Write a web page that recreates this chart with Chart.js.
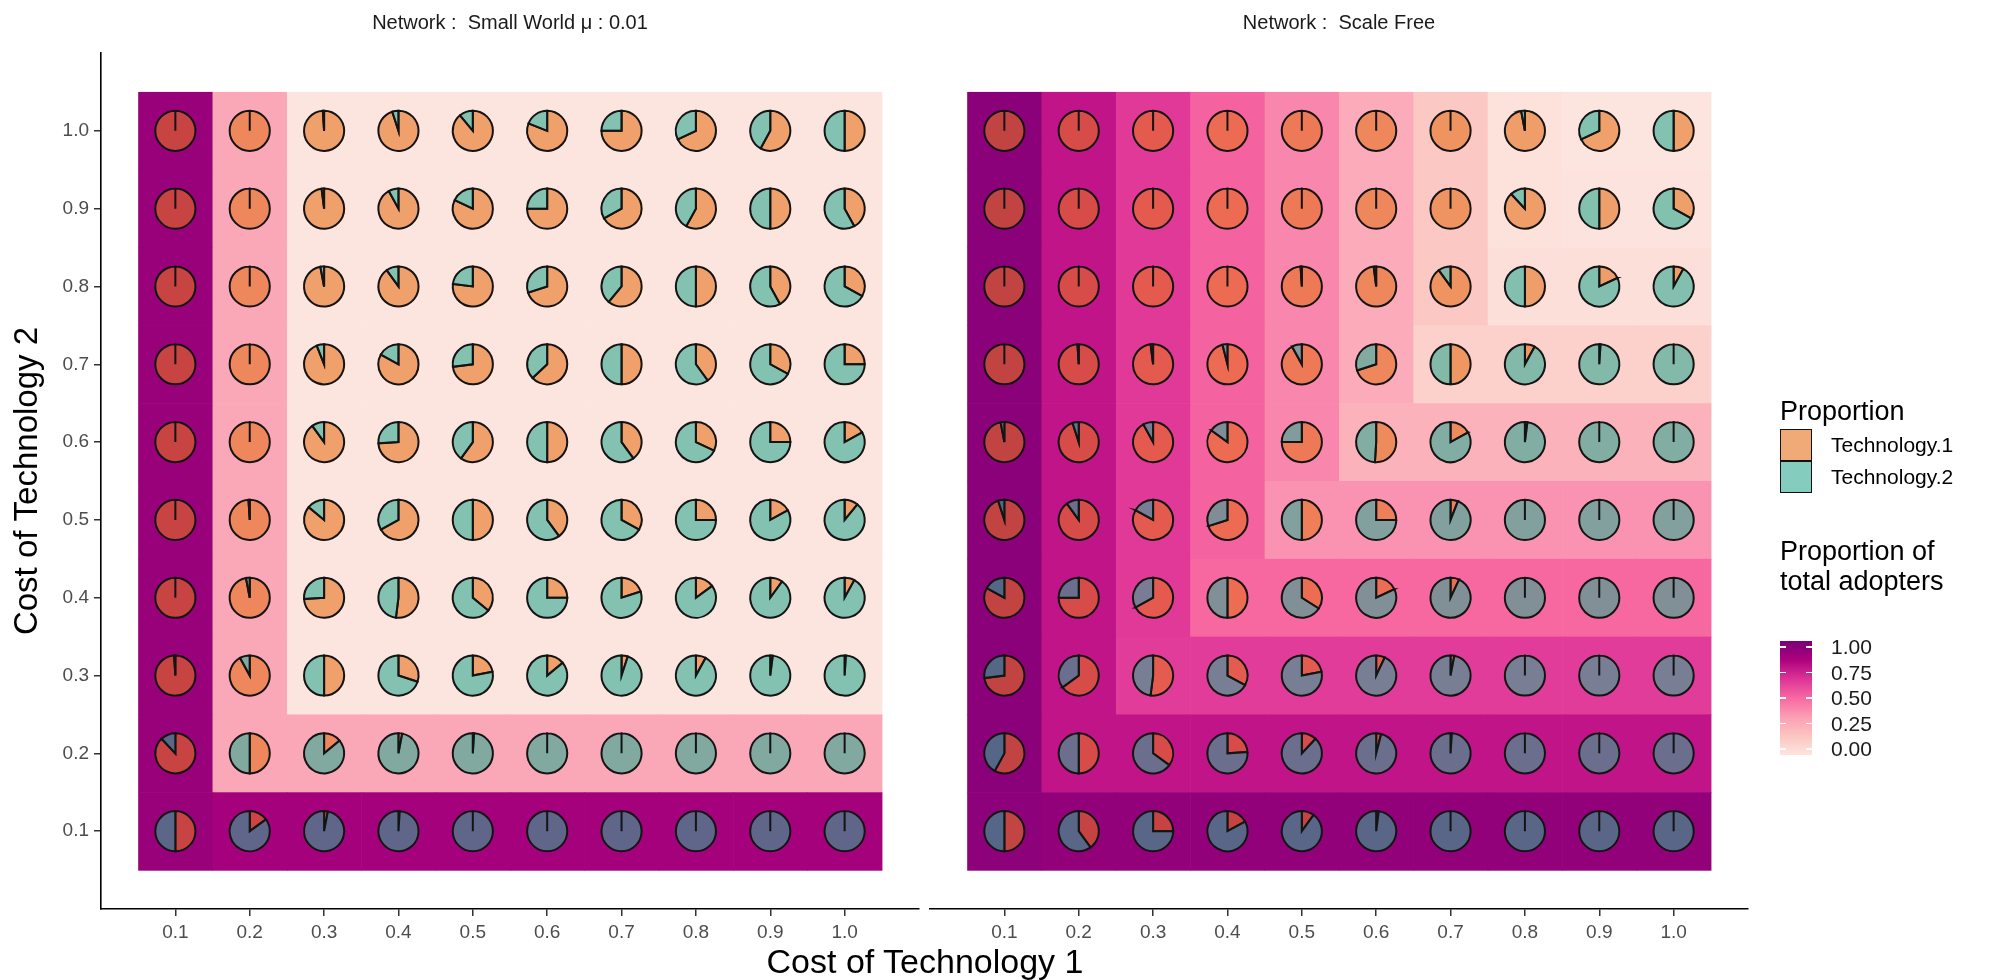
<!DOCTYPE html>
<html>
<head>
<meta charset="utf-8">
<script src="https://cdn.jsdelivr.net/npm/chart.js@4.4.1/dist/chart.umd.min.js"></script>
<style>
    html, body { margin: 0; padding: 0; background: #fff; }
    body { width: 2004px; height: 980px; position: relative; overflow: hidden; font-family: 'Liberation Sans', Arial, sans-serif; }
    canvas { position: absolute; left: 0; top: 0; width: 2004px; height: 980px; }
    .txt { position: absolute; white-space: nowrap; color: #000; }
    .caja { position: absolute; box-sizing: border-box; }
</style>
</head>
<body>
<canvas id="swChart" width="2004" height="980"></canvas>
<canvas id="sfChart" width="2004" height="980"></canvas>
<div id="tituloX" class="txt" style="left:0; width:1850px; top:942px; font-size:34px; line-height:38px; text-align:center;">Cost of Technology 1</div>
<div id="leyenda"></div>
<script>
'use strict';

// Niveles de coste (ejes x e y de ambos paneles)
const costLevels = [0.1, 0.2, 0.3, 0.4, 0.5, 0.6, 0.7, 0.8, 0.9, 1.0];

// Filas: coste tecnología 2 de 1.0 (arriba) a 0.1 (abajo). Columnas: coste tecnología 1 de 0.1 a 1.0
// Cuota de Technology.2 entre los adoptantes - Small World
const swShareTech2 = [
    [0.00, 0.00, 0.01, 0.05, 0.11, 0.19, 0.25, 0.32, 0.42, 0.50],
    [0.00, 0.00, 0.02, 0.08, 0.18, 0.25, 0.33, 0.42, 0.50, 0.58],
    [0.00, 0.00, 0.03, 0.10, 0.23, 0.30, 0.39, 0.50, 0.58, 0.67],
    [0.00, 0.00, 0.06, 0.17, 0.27, 0.37, 0.50, 0.60, 0.67, 0.75],
    [0.00, 0.00, 0.10, 0.26, 0.40, 0.50, 0.60, 0.68, 0.75, 0.83],
    [0.00, 0.01, 0.14, 0.33, 0.50, 0.60, 0.67, 0.75, 0.83, 0.89],
    [0.00, 0.03, 0.26, 0.48, 0.64, 0.75, 0.80, 0.85, 0.90, 0.92],
    [0.01, 0.08, 0.50, 0.70, 0.78, 0.86, 0.95, 0.92, 0.98, 0.99],
    [0.12, 0.50, 0.86, 0.97, 0.99, 1.00, 1.00, 1.00, 1.00, 1.00],
    [0.50, 0.85, 0.97, 0.99, 1.00, 1.00, 1.00, 1.00, 1.00, 1.00]
];
// Proporción de adoptantes totales - Small World
const swAdopters = [
    [0.90, 0.30, 0.00, 0.00, 0.00, 0.00, 0.00, 0.00, 0.00, 0.00],
    [0.90, 0.30, 0.00, 0.00, 0.00, 0.00, 0.00, 0.00, 0.00, 0.00],
    [0.90, 0.30, 0.00, 0.00, 0.00, 0.00, 0.00, 0.00, 0.00, 0.00],
    [0.90, 0.30, 0.00, 0.00, 0.00, 0.00, 0.00, 0.00, 0.00, 0.00],
    [0.90, 0.30, 0.00, 0.00, 0.00, 0.00, 0.00, 0.00, 0.00, 0.00],
    [0.90, 0.30, 0.00, 0.00, 0.00, 0.00, 0.00, 0.00, 0.00, 0.00],
    [0.90, 0.30, 0.00, 0.00, 0.00, 0.00, 0.00, 0.00, 0.00, 0.00],
    [0.90, 0.30, 0.00, 0.00, 0.00, 0.00, 0.00, 0.00, 0.00, 0.00],
    [0.90, 0.30, 0.30, 0.30, 0.30, 0.30, 0.30, 0.30, 0.30, 0.30],
    [0.90, 0.86, 0.86, 0.86, 0.86, 0.86, 0.86, 0.86, 0.86, 0.86]
];

// Cuota de Technology.2 - Scale Free
const sfShareTech2 = [
    [0.00, 0.00, 0.00, 0.00, 0.00, 0.00, 0.00, 0.03, 0.32, 0.50],
    [0.00, 0.00, 0.00, 0.00, 0.00, 0.00, 0.00, 0.12, 0.50, 0.67],
    [0.00, 0.00, 0.00, 0.00, 0.01, 0.02, 0.10, 0.50, 0.82, 0.92],
    [0.00, 0.01, 0.02, 0.04, 0.08, 0.30, 0.50, 0.92, 0.99, 1.00],
    [0.03, 0.05, 0.08, 0.15, 0.25, 0.49, 0.83, 0.98, 1.00, 1.00],
    [0.05, 0.10, 0.17, 0.30, 0.50, 0.75, 0.94, 1.00, 1.00, 1.00],
    [0.17, 0.25, 0.33, 0.50, 0.66, 0.82, 0.93, 1.00, 1.00, 1.00],
    [0.27, 0.35, 0.48, 0.67, 0.78, 0.93, 0.97, 1.00, 1.00, 1.00],
    [0.42, 0.50, 0.65, 0.76, 0.88, 0.96, 0.99, 1.00, 1.00, 1.00],
    [0.50, 0.60, 0.75, 0.83, 0.90, 0.98, 1.00, 1.00, 1.00, 1.00]
];
// Proporción de adoptantes totales - Scale Free
const sfAdopters = [
    [0.95, 0.77, 0.65, 0.52, 0.41, 0.28, 0.15, 0.02, 0.00, 0.00],
    [0.95, 0.77, 0.65, 0.52, 0.41, 0.28, 0.15, 0.02, 0.01, 0.01],
    [0.95, 0.77, 0.65, 0.52, 0.41, 0.28, 0.15, 0.03, 0.03, 0.03],
    [0.95, 0.77, 0.65, 0.52, 0.41, 0.28, 0.11, 0.11, 0.11, 0.11],
    [0.95, 0.77, 0.65, 0.52, 0.41, 0.25, 0.25, 0.25, 0.25, 0.25],
    [0.95, 0.77, 0.65, 0.52, 0.37, 0.37, 0.37, 0.37, 0.37, 0.37],
    [0.95, 0.77, 0.65, 0.50, 0.50, 0.50, 0.50, 0.50, 0.50, 0.50],
    [0.95, 0.77, 0.64, 0.64, 0.64, 0.64, 0.64, 0.64, 0.64, 0.64],
    [0.95, 0.77, 0.77, 0.77, 0.77, 0.77, 0.77, 0.77, 0.77, 0.77],
    [0.94, 0.92, 0.92, 0.92, 0.92, 0.92, 0.92, 0.92, 0.92, 0.92]
];

const techNames = ['Technology.1', 'Technology.2'];
const techColors = ['rgba(230, 113, 30, 0.6)', 'rgba(50, 170, 145, 0.6)'];
const adopterColors = ['#FDE5DF', '#FCC5C0', '#FA9FB5', '#F768A1', '#DD3497', '#AE017E', '#7A0177'];
const adopterBreaks = [1.00, 0.75, 0.50, 0.25, 0.00];

const FUENTE = "'Liberation Sans', Arial, sans-serif";
Chart.defaults.font.family = FUENTE;

function hexARgb(hex) {
    const n = parseInt(hex.slice(1), 16);
    return [n >> 16, (n >> 8) & 255, n & 255];
}

function colorAdoptantes(v) {
    const pos = Math.min(Math.max(v, 0), 1) * (adopterColors.length - 1);
    const i = Math.min(Math.floor(pos), adopterColors.length - 2);
    const t = pos - i;
    const a = hexARgb(adopterColors[i]);
    const b = hexARgb(adopterColors[i + 1]);
    return 'rgb(' + a.map((c, k) => Math.round(c + (b[k] - c) * t)).join(',') + ')';
}

// Teselas de fondo + tartas, colocadas con las escalas del gráfico
function pluginTeselasTartas(cuota, adoptantes) {
    const ArcEl = Chart.ArcElement || Chart.elements.ArcElement;
    const ultimo = costLevels.length - 1;
    return {
        id: 'teselasTartas',
        beforeDatasetsDraw(chart) {
            const { ctx, scales: { x, y } } = chart;
            ctx.save();
            adoptantes.forEach((fila, r) => {
                const c2 = costLevels[ultimo - r];
                fila.forEach((v, c) => {
                    const c1 = costLevels[c];
                    const x0 = x.getPixelForValue(c1 - 0.05);
                    const x1 = x.getPixelForValue(c1 + 0.05);
                    const y0 = y.getPixelForValue(c2 + 0.05);
                    const y1 = y.getPixelForValue(c2 - 0.05);
                    ctx.fillStyle = colorAdoptantes(v);
                    ctx.fillRect(x0, y0, x1 - x0 + 0.6, y1 - y0 + 0.6);
                });
            });
            ctx.restore();
        },
        afterDatasetsDraw(chart) {
            const { ctx, scales: { x, y } } = chart;
            const radio = x.getPixelForValue(0.027) - x.getPixelForValue(0);
            cuota.forEach((fila, r) => {
                const cy = y.getPixelForValue(costLevels[ultimo - r]);
                fila.forEach((p2, c) => {
                    const cx = x.getPixelForValue(costLevels[c]);
                    const partes = [1 - p2, p2];
                    let inicio = -Math.PI / 2;
                    partes.forEach((p, k) => {
                        const fin = inicio + p * 2 * Math.PI;
                        const arco = new ArcEl({
                            x: cx, y: cy, startAngle: inicio, endAngle: fin,
                            circumference: fin - inicio, innerRadius: 0, outerRadius: radio
                        });
                        arco.options = Object.assign({}, ArcEl.defaults, {
                            backgroundColor: techColors[k],
                            borderColor: '#141414',
                            borderWidth: 2,
                            borderAlign: 'center',
                            borderJoinStyle: 'miter',
                            borderDash: [],
                            borderDashOffset: 0,
                            offset: 0,
                            spacing: 0,
                            borderRadius: 0,
                            circular: true
                        });
                        arco.draw(ctx);
                        inicio = fin;
                    });
                });
            });
        }
    };
}

function ejeX() {
    return {
        type: 'linear', min: 0, max: 1.1,
        afterBuildTicks: s => { s.ticks = costLevels.map(v => ({ value: v })); },
        afterFit: s => { s.height = 71; },
        ticks: {
            color: '#4D4D4D', font: { size: 19 }, padding: 5,
            autoSkip: false, maxRotation: 0, callback: v => v.toFixed(1)
        },
        grid: { display: true, drawOnChartArea: false, drawTicks: true, tickLength: 7, color: '#333333', lineWidth: 1.5 },
        border: { display: true, color: '#000', width: 1.6 }
    };
}

function ejeY(visible) {
    if (!visible) return { type: 'linear', min: 0, max: 1.1, display: false };
    return {
        type: 'linear', min: 0, max: 1.1,
        afterBuildTicks: s => { s.ticks = costLevels.map(v => ({ value: v })); },
        afterFit: s => { s.width = 101; },
        ticks: { color: '#4D4D4D', font: { size: 19 }, padding: 5, autoSkip: false, callback: v => v.toFixed(1) },
        grid: { display: true, drawOnChartArea: false, drawTicks: true, tickLength: 7, color: '#333333', lineWidth: 1.5 },
        border: { display: true, color: '#000', width: 1.6 },
        title: { display: true, text: 'Cost of Technology 2', color: '#000', font: { size: 33 }, padding: { top: 8, bottom: 0 } }
    };
}

function crearPanel(idCanvas, titulo, cuota, adoptantes, conEjeY, relleno) {
    const canvas = document.getElementById(idCanvas);
    const puntos = [];
    costLevels.forEach(c2 => costLevels.forEach(c1 => puntos.push({ x: c1, y: c2 })));

    return new Chart(canvas.getContext('2d'), {
        type: 'scatter',
        data: { datasets: [{ data: puntos, pointRadius: 0, pointHoverRadius: 0 }] },
        options: {
            responsive: false,
            animation: false,
            events: [],
            layout: { padding: relleno },
            scales: { x: ejeX(), y: ejeY(conEjeY) },
            plugins: {
                legend: { display: false },
                tooltip: { enabled: false },
                title: {
                    display: true, text: titulo, fullSize: false, color: '#1A1A1A',
                    font: { size: 20, weight: 'normal' }, padding: { top: 11, bottom: 18 }
                }
            }
        },
        plugins: [pluginTeselasTartas(cuota, adoptantes)]
    });
}

crearPanel('swChart', 'Network :  Small World \u03bc : 0.01', swShareTech2, swAdopters, true,
    { left: 0, right: 1085, top: 0, bottom: 0 });
crearPanel('sfChart', 'Network :  Scale Free', sfShareTech2, sfAdopters, false,
    { left: 930, right: 256, top: 0, bottom: 0 });

// Leyendas (HTML)
const leyenda = document.getElementById('leyenda');
let html = '<div class="txt" style="left:1780px; top:396px; font-size:27px; line-height:30px;">Proportion</div>';
techNames.forEach((nombre, i) => {
    const top = 429 + i * 32;
    html += '<div class="caja" style="left:1780px; top:' + top + 'px; width:32px; height:32px; background:' + techColors[i] + '; border:1.6px solid #111;"></div>';
    html += '<div class="txt" style="left:1831px; top:' + (top + 4) + 'px; font-size:21px; line-height:24px;">' + nombre + '</div>';
});
html += '<div class="txt" style="left:1780px; top:536px; font-size:27px; line-height:30px;">Proportion of<br>total adopters</div>';
const barTop = 641, barAlto = 114;
html += '<div class="caja" style="left:1780px; top:' + barTop + 'px; width:32px; height:' + barAlto + 'px; background:linear-gradient(to top,' + adopterColors.join(',') + ');"></div>';
adopterBreaks.forEach(v => {
    const yv = barTop + 6 + (1 - v) * (barAlto - 12);
    html += '<div class="caja" style="left:1780px; top:' + (yv - 0.75) + 'px; width:6px; height:1.5px; background:#fff;"></div>';
    html += '<div class="caja" style="left:1806px; top:' + (yv - 0.75) + 'px; width:6px; height:1.5px; background:#fff;"></div>';
    html += '<div class="txt" style="left:1831px; top:' + (yv - 12) + 'px; font-size:21px; line-height:24px; color:#1A1A1A;">' + v.toFixed(2) + '</div>';
});
leyenda.innerHTML = html;
</script>
</body>
</html>
